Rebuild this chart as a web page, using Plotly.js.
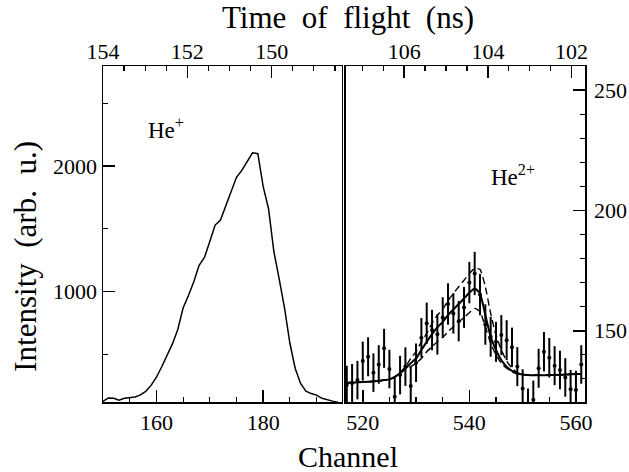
<!DOCTYPE html>
<html><head><meta charset="utf-8">
<script src="https://cdn.plot.ly/plotly-3.0.1.min.js"></script>
<style>body{margin:0;background:#fff}</style>
</head><body><div id="chart" style="width:629px;height:472px"></div>
<script>
// He+ spectrum (left panel)
const heChannels = [150,151,152,153,154,155,156,157,158,159,160,161,162,163,164,165,166,167,168,169,170,171,172,173,174,175,176,177,178,179,180,181,182,183,184,185,186,187,188,189,190,191,192,193,194];
const heIntensity = [128,155,153,138,152,160,163,180,208,255,320,403,500,585,700,870,970,1080,1210,1272,1400,1530,1570,1680,1800,1910,1965,2030,2105,2098,1835,1660,1320,1100,870,590,390,270,210,190,178,152,138,130,122];

// He2+ spectrum (right panel)
const he2Channels = [517,518,519,520,521,522,523,524,525,526,527,528,529,530,531,532,533,534,535,536,537,538,539,540,541,542,543,544,545,546,547,548,549,550,551,552,553,554,555,556,557,558,559,560,561];
const he2Counts = [127.5,128.2,129.5,137.4,139.2,132.6,136.0,142.7,134.1,122.6,131.6,135.1,127.0,136.7,147.1,153.1,150.3,148.5,155.5,161.1,157.2,154.0,159.7,170.0,173.8,165.0,152.6,147.5,145.4,148.2,146.1,143.1,135.1,126.0,118.0,121.3,134.4,141.3,138.8,135.5,133.7,130.6,125.7,125.4,136.0];
const he2Errors = [8,8,8,8.1,8.1,8,8,8.1,8,8,8,8,8,8,8.2,8.6,8.4,8.4,8.4,8.6,8.4,8.4,8.5,8.6,9,8.6,8.4,8.3,8.3,8.3,8.3,8.2,8.1,8,8,8,8.1,8.2,8.2,8.1,8,8,8,8,8];

// fit curves
const fitBest  = [128.4,128.5,128.6,128.7,128.8,129.0,129.2,129.5,129.8,130.8,132.5,134.3,136.5,138.5,142.0,145.4,148.6,151.4,153.7,156.5,158.9,161.1,163.4,165.8,167.6,165.5,156.5,147.5,142.0,137.8,135.1,133.3,132.3,131.8,131.6,131.5,131.5,131.5,131.6,131.6,131.7,131.8,131.9,132.0,132.0];
const fitUpper = [128.4,128.5,128.6,128.7,128.8,129.0,129.2,129.5,129.8,130.8,132.8,135.0,138.5,141.3,145.4,148.9,153.1,156.5,158.9,162.5,165.5,168.3,171.0,173.8,175.9,175.5,168.3,157.2,148.2,142.0,137.4,134.4,132.6,131.8,131.6,131.5,131.5,131.5,131.6,131.6,131.7,131.8,131.9,132.0,132.0];
const fitLower = [128.4,128.5,128.6,128.7,128.8,129.0,129.2,129.5,129.8,130.8,132.3,133.8,135.1,136.5,138.5,141.3,143.4,145.4,147.2,149.6,151.7,153.7,155.5,157.5,159.3,157.9,151.7,144.8,139.9,136.5,134.4,133.0,132.0,131.8,131.6,131.5,131.5,131.5,131.6,131.6,131.7,131.8,131.9,132.0,132.0];

const serif = '"Liberation Serif", "Times New Roman", serif';
const tickFont = {family: serif, size: 22, color: '#000'};
function ax(extra, minorDtick) {
  return Object.assign({
    showline: true, linecolor: '#000', linewidth: 1.5,
    ticks: 'inside', ticklen: 12, tickwidth: 1.5, tickcolor: '#000',
    showgrid: false, zeroline: false, tickfont: tickFont, autorange: false,
    minor: {ticks: 'inside', ticklen: 5, tickwidth: 1.2, tickcolor: '#000', showgrid: false, dtick: minorDtick}
  }, extra);
}

const traces = [
  {x: heChannels, y: heIntensity, xaxis: 'x', yaxis: 'y', mode: 'lines',
   line: {color: '#000', width: 1.5}, hoverinfo: 'skip'},
  {x: he2Channels, y: fitUpper, xaxis: 'x2', yaxis: 'y2', mode: 'lines',
   line: {color: '#000', width: 1.4, dash: '7px,4px', shape: 'spline', smoothing: 0.5}},
  {x: he2Channels, y: fitLower, xaxis: 'x2', yaxis: 'y2', mode: 'lines',
   line: {color: '#000', width: 1.4, dash: '7px,4px', shape: 'spline', smoothing: 0.5}},
  {x: he2Channels, y: fitBest, xaxis: 'x2', yaxis: 'y2', mode: 'lines',
   line: {color: '#000', width: 2, shape: 'spline', smoothing: 0.5}},
  {x: he2Channels, y: he2Counts, xaxis: 'x2', yaxis: 'y2', mode: 'markers',
   marker: {color: '#000', size: 4},
   error_y: {type: 'data', array: he2Errors, visible: true, color: '#000', thickness: 2, width: 0}},
  {x: [], y: [], xaxis: 'x3', yaxis: 'y', mode: 'lines'},
  {x: [], y: [], xaxis: 'x4', yaxis: 'y2', mode: 'lines'}
];

const nb = '\u00a0';
const layout = {
  width: 629, height: 472,
  margin: {l: 103, r: 44, t: 66, b: 70},
  paper_bgcolor: '#fff', plot_bgcolor: '#fff', showlegend: false,
  font: {family: serif, color: '#000'},
  xaxis: ax({domain: [0, 0.4952], range: [150, 194.7], dtick: 20, tick0: 0, anchor: 'y'}, 5),
  yaxis: ax({domain: [0, 1], range: [123, 2795], dtick: 1000, tick0: 0, anchor: 'x', mirror: true}, 500),
  xaxis2: ax({domain: [0.5041, 1], range: [516.85, 561.7], dtick: 20, tick0: 0, anchor: 'y2'}, 5),
  yaxis2: ax({domain: [0, 1], range: [120.4, 260], dtick: 50, tick0: 0, anchor: 'x2', side: 'right', mirror: true, ticklabelstandoff: 3}, 10),
  xaxis3: ax({overlaying: 'x', side: 'top', anchor: 'y', range: [154, 148.34], dtick: 2, tick0: 0, ticklabelstandoff: -3}, 0.5),
  xaxis4: ax({overlaying: 'x2', side: 'top', anchor: 'y2', range: [107.39, 101.68], dtick: 2, tick0: 0, ticklabelstandoff: -3}, 0.5),
  annotations: [
    {text: 'Time' + nb + nb + 'of' + nb + nb + 'flight' + nb + nb + '(ns)', xref: 'paper', yref: 'paper',
     x: 0.508, y: 1.143, xanchor: 'center', yanchor: 'middle', showarrow: false,
     font: {family: serif, size: 31, color: '#000'}},
    {text: 'Channel', xref: 'paper', yref: 'paper', x: 0.508, y: -0.163,
     xanchor: 'center', yanchor: 'middle', showarrow: false,
     font: {family: serif, size: 30, color: '#000'}},
    {text: 'Intensity' + nb + nb + '(arb.' + nb + nb + 'u.)', xref: 'paper', yref: 'paper', x: -0.16, y: 0.435,
     xanchor: 'center', yanchor: 'middle', textangle: -90, showarrow: false,
     font: {family: serif, size: 31, color: '#000'}},
    {text: 'He<sup>+</sup>', xref: 'x', yref: 'y', x: 158.1, y: 2300,
     xanchor: 'left', yanchor: 'middle', showarrow: false,
     font: {family: serif, size: 23, color: '#000'}},
    {text: 'He<sup>2+</sup>', xref: 'x2', yref: 'y2', x: 543.7, y: 214.5,
     xanchor: 'left', yanchor: 'middle', showarrow: false,
     font: {family: serif, size: 23, color: '#000'}}
  ]
};

Plotly.newPlot('chart', traces, layout, {displayModeBar: false, staticPlot: true});
</script>
</body></html>
